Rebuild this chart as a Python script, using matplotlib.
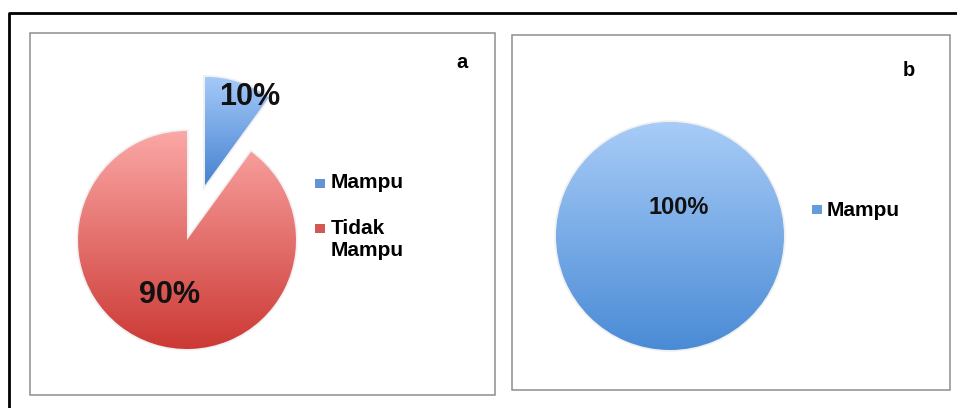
# grafico_mampu.py
# Dos diagramas de pastel (a y b) con degradado vertical, al estilo de la figura original

import numpy as np
import matplotlib.pyplot as plt
from matplotlib.colors import LinearSegmentedColormap
from matplotlib.patches import Rectangle

plt.rcParams['font.family'] = ['Liberation Sans', 'DejaVu Sans']

# ─── Datos ────────────────────────────────────────────────────────────────────

kategori_a = ["Mampu", "Tidak\nMampu"]
nilai_a = [10, 90]

kategori_b = ["Mampu"]
nilai_b = [100]

# ─── Lienzo (coordenadas en píxeles, y medida desde arriba) ───────────────────

W, H = 957, 408


def Y(y):
    # convierte y de píxel (desde arriba) a coordenada de datos
    return H - y


fig = plt.figure(figsize=(W / 100, H / 100), dpi=100)
ax = fig.add_axes([0, 0, 1, 1])
ax.set_axis_off()

AZUL = ("#a5c9f8", "#4582d1")
ROJO = ("#fba8a6", "#cc3934")
AZUL_B = ("#a8ccf7", "#4a8bd6")


def degradado(ax, cuña, c_arriba, c_abajo):
    # rellena la cuña con un degradado vertical recortado a su forma
    x0, y0, x1, y1 = cuña.get_path().get_extents().extents
    cmap = LinearSegmentedColormap.from_list("g", [c_abajo, c_arriba])
    grad = np.linspace(0, 1, 256).reshape(-1, 1)
    im = ax.imshow(grad, extent=[x0, x1, y0, y1], origin="lower", cmap=cmap,
                   aspect="auto", interpolation="bilinear", zorder=2)
    im.set_clip_path(cuña)
    # sombra suave bajo la cuña
    cuña.set_facecolor("none")
    cuña.set_edgecolor((0, 0, 0, 0.06))
    cuña.set_linewidth(2.5)
    cuña.set_zorder(1.9)


# ─── Marcos ───────────────────────────────────────────────────────────────────

ax.plot([9, 9, W], [Y(H), Y(13), Y(13)], color="black", lw=2, solid_capstyle="butt")
ax.add_patch(Rectangle((30, Y(395)), 465, 362, fill=False, ec="#8e8e8e", lw=1.1))
ax.add_patch(Rectangle((512, Y(390)), 438, 355, fill=False, ec="#8e8e8e", lw=1.1))

# ─── Panel a ──────────────────────────────────────────────────────────────────

cuñas_a, _, pct_a = ax.pie(
    nilai_a, center=(187, Y(240)), radius=109, startangle=90, counterclock=False,
    explode=[57, 0], autopct="%.0f%%", pctdistance=0.53, frame=True,
    textprops=dict(fontsize=22, fontweight="bold", color="#111111"),
)
for cuña, (c1, c2) in zip(cuñas_a, [AZUL, ROJO]):
    degradado(ax, cuña, c1, c2)
for t in pct_a:
    t.set_zorder(5)
pct_a[0].set_position((250, Y(97)))

ax.text(462, Y(63), "a", fontsize=14.5, fontweight="bold", ha="center", va="center")

leyenda_a = [(183, AZUL), (228, ROJO)]
for nombre, (ym, col) in zip(kategori_a, leyenda_a):
    ax.add_patch(Rectangle((315, Y(ym + 5)), 10, 9, color=col[1], alpha=0.85, lw=0))
    ax.text(331, Y(ym - 9.5), nombre, fontsize=15, fontweight="bold",
            ha="left", va="top", linespacing=1.2)

# ─── Panel b ──────────────────────────────────────────────────────────────────

cuñas_b, _, pct_b = ax.pie(
    nilai_b, center=(670, Y(236)), radius=114, startangle=90, counterclock=False,
    autopct="%.0f%%", frame=True,
    textprops=dict(fontsize=17, fontweight="bold", color="#111111"),
)
degradado(ax, cuñas_b[0], *AZUL_B)
pct_b[0].set_zorder(5)
pct_b[0].set_position((679, Y(207)))

ax.text(909, Y(71), "b", fontsize=14.5, fontweight="bold", ha="center", va="center")

for nombre in kategori_b:
    ax.add_patch(Rectangle((812, Y(214)), 10, 9, color=AZUL_B[1], alpha=0.85, lw=0))
    ax.text(827, Y(201.5), nombre, fontsize=15, fontweight="bold", ha="left", va="top")

ax.set_xlim(0, W)
ax.set_ylim(0, H)
ax.set_aspect("auto")
ax.set_axis_off()

fig.savefig("out.png", dpi=100)
